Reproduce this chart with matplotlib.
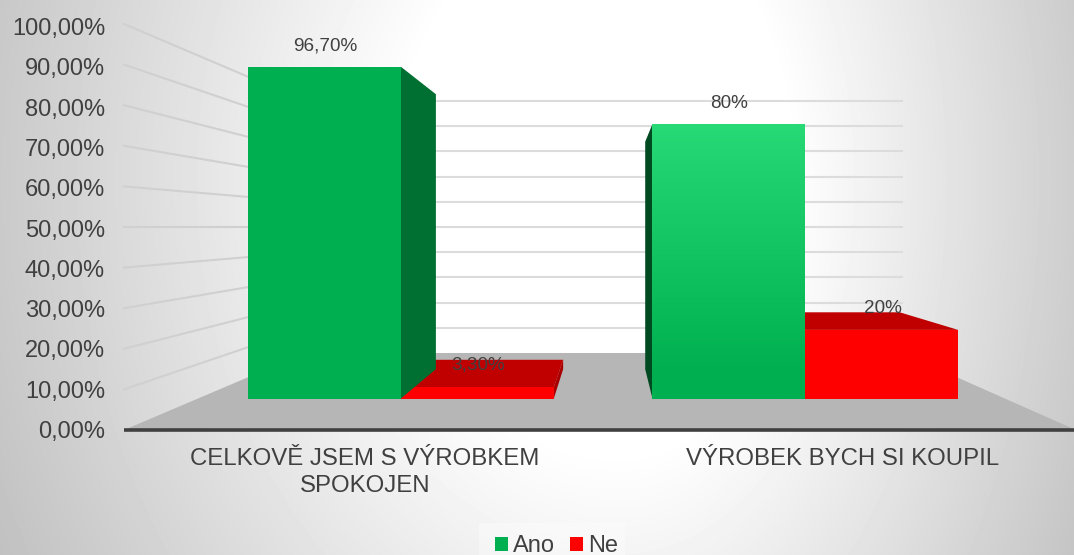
"""Perspective column chart: Ano / Ne answers on a grey floor."""

import matplotlib

matplotlib.use("Agg")
import matplotlib.pyplot as plt
import numpy as np
from matplotlib.colors import to_rgb
from matplotlib.patches import Polygon, Rectangle

plt.rcParams["font.family"] = ["Liberation Sans", "DejaVu Sans"]

categories = ["CELKOVĚ JSEM S VÝROBKEM\nSPOKOJEN", "VÝROBEK BYCH SI KOUPIL"]
ano_values = [96.7, 80.0]
ne_values = [3.3, 20.0]
ano_labels = ["96,70%", "80%"]
ne_labels = ["3,30%", "20%"]
tick_values = [0, 10, 20, 30, 40, 50, 60, 70, 80, 90, 100]
tick_labels = ["0,00%", "10,00%", "20,00%", "30,00%", "40,00%", "50,00%",
               "60,00%", "70,00%", "80,00%", "90,00%", "100,00%"]

TEXT = "#404040"
GRID = "#dcdcdc"
GRID_SIDE = "#d0d0d0"
FLOOR = "#b6b6b6"
GREEN = "#00b050"
GREEN_LIGHT = "#27da76"
RED = "#ff0000"
RED_DARK = "#c00000"

# depth of the bar faces, 0 = chart front edge, 1 = back wall
FRONT = 0.409
BACK = 0.79
BAR_WIDTH = 0.1895
CENTERS = [0.2515, 0.7527]


def project(u, value, t):
    """Category position u (0-1), value in %, depth t -> image pixel."""
    left = 124 + 181 * t
    right = 1076 - 174 * t
    x = left + u * (right - left)
    y = 430 - 77 * t - (4.06 - 1.54 * t) * value
    return x, y


def quad(ax, corners, color, zorder):
    pts = [project(*c) for c in corners]
    patch = Polygon(pts, closed=True, facecolor=color, edgecolor="none", zorder=zorder)
    ax.add_patch(patch)
    return patch


def draw_background(ax):
    xx, yy = np.meshgrid(np.arange(1074), np.arange(555))
    dx = np.where(xx < 620, (620 - xx) / 1.3, xx - 620)
    r = np.hypot(dx, (yy - 180) / 1.6)
    shade = 1.0 - 0.000676 * np.clip(r - 170, 0, None)
    ax.imshow(shade, cmap="gray", vmin=0, vmax=1, extent=(0, 1074, 555, 0),
              aspect="auto", zorder=0)


def draw_walls(ax):
    quad(ax, [(0, 0, 0), (1, 0, 0), (1, 0, 1), (0, 0, 1)], FLOOR, 1)
    for v in tick_values[1:]:
        ax.plot(*zip(project(0, v, 0), project(0, v, 1)), color=GRID_SIDE, lw=1.5, zorder=1)
        ax.plot(*zip(project(0, v, 1), project(1, v, 1)), color=GRID, lw=1.5, zorder=1)
    ax.plot(*zip(project(0, 0, 0), project(1, 0, 0)), color=TEXT, lw=2.6, zorder=2,
            solid_capstyle="butt")


def draw_gradient_front(ax, corners, zorder):
    patch = quad(ax, corners, "none", zorder)
    x0, y0 = project(*corners[0])
    x1, y1 = project(*corners[2])
    top = np.array(to_rgb(GREEN_LIGHT))
    bottom = np.array(to_rgb(GREEN))
    f = np.linspace(0, 1, 256)[:, None, None]
    # image row 0 is the bar's top edge
    img = ax.imshow(top + (bottom - top) * np.clip(f * 1.1, 0, 1),
                    extent=(x0, x1, y0, y1), aspect="auto", zorder=zorder)
    img.set_clip_path(patch)


def draw_bars(ax):
    # order matters: each Ne sits behind the face of its Ano neighbour
    bars = [
        (CENTERS[0], ne_values[0], "right", "#a80000", RED),
        (CENTERS[0] - BAR_WIDTH, ano_values[0], "right", "#006f32", GREEN),
        (CENTERS[1], ne_values[1], None, None, RED),
        (CENTERS[1] - BAR_WIDTH, ano_values[1], "left", "#004a22", "gradient"),
    ]
    for i, (u, v, side, side_color, front) in enumerate(bars):
        z = 3 + i * 0.1
        u2 = u + BAR_WIDTH
        if side is not None:
            su = u2 if side == "right" else u
            quad(ax, [(su, 0, FRONT), (su, v, FRONT), (su, v, BACK), (su, 0, BACK)], side_color, z)
        # the top face only shows when it lies below eye level
        if project(u, v, BACK)[1] < project(u, v, FRONT)[1]:
            quad(ax, [(u, v, FRONT), (u2, v, FRONT), (u2, v, BACK), (u, v, BACK)], RED_DARK, z + 0.01)
        corners = [(u, 0, FRONT), (u2, 0, FRONT), (u2, v, FRONT), (u, v, FRONT)]
        if front == "gradient":
            draw_gradient_front(ax, corners, z + 0.02)
        else:
            quad(ax, corners, front, z + 0.02)


def draw_text(ax):
    for v, label in zip(tick_values, tick_labels):
        _, y = project(0, v, 0)
        ax.text(105, y + 2 + 0.03 * v, label, ha="right", va="center", fontsize=17,
                color=TEXT, zorder=5)

    for cx, label in zip([365, 843], categories):
        ax.text(cx, 448, label, ha="center", va="top", fontsize=17.3, color=TEXT,
                linespacing=1.31, zorder=5)

    for u, v, label in zip(CENTERS, ano_values, ano_labels):
        x, _ = project(u - BAR_WIDTH / 2, v, FRONT)
        _, y = project(u, v, FRONT)
        ax.text(x + 0.5, y - 20.5, label, ha="center", va="center", fontsize=13.6,
                color=TEXT, zorder=5)
    for u, v, label, dy in zip(CENTERS, ne_values, ne_labels, [5, -4]):
        x, _ = project(u + BAR_WIDTH / 2, v, FRONT)
        _, y = project(u, v, BACK)
        ax.text(x + 1, y + dy, label, ha="center", va="center", fontsize=13.6,
                color=TEXT, zorder=5)

    ax.add_patch(Rectangle((479, 523), 146, 32, facecolor="white", alpha=0.35,
                           edgecolor="none", zorder=1))
    ax.add_patch(Rectangle((495, 537), 13, 14, facecolor=GREEN, edgecolor="none", zorder=5))
    ax.add_patch(Rectangle((570, 537), 13, 14, facecolor=RED, edgecolor="none", zorder=5))
    ax.text(513, 546, "Ano", ha="left", va="center", fontsize=17, color=TEXT, zorder=5)
    ax.text(588, 546, "Ne", ha="left", va="center", fontsize=17, color=TEXT, zorder=5)


fig = plt.figure(figsize=(10.74, 5.55), dpi=100)
ax = fig.add_axes([0, 0, 1, 1])
draw_background(ax)
draw_walls(ax)
draw_bars(ax)
draw_text(ax)
ax.set_xlim(0, 1074)
ax.set_ylim(555, 0)
ax.axis("off")
fig.savefig("out.png", dpi=100)
plt.close(fig)
